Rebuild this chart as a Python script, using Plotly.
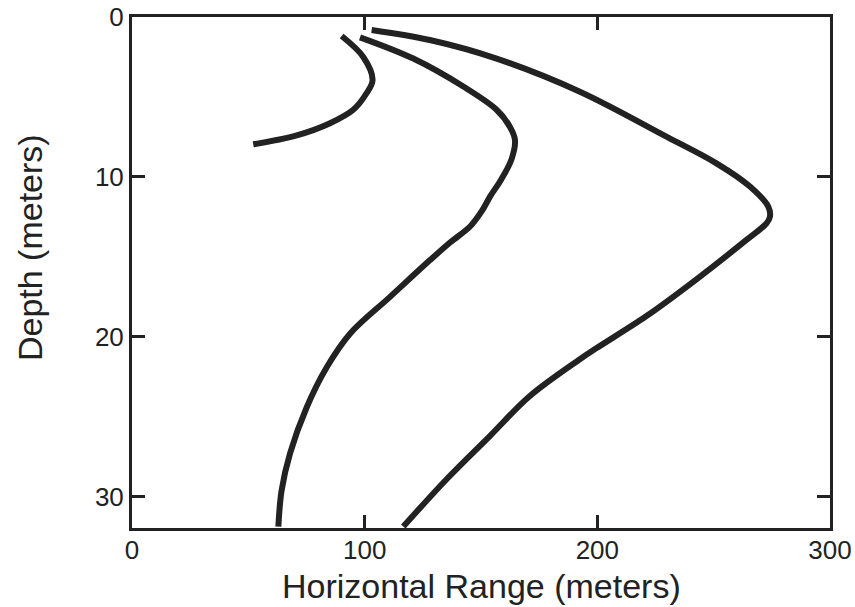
import plotly.graph_objects as go

# Curve 1 (shallow, short)
c1_range = [90.1, 99.4, 103.4, 100.8, 95.1, 85.1, 70.8, 52.1]
c1_depth = [1.19, 2.5, 3.94, 4.77, 5.8, 6.64, 7.4, 7.96]

# Curve 2 (middle)
c2_range = [98.0, 120.9, 142.4, 156.7, 162.4, 164.6, 163.1, 158.5, 154.0, 150.5, 145.3,
            136.7, 128.1, 110.9, 93.7, 83.7, 75.1, 67.9, 64.3, 62.9]
c2_depth = [1.27, 2.6, 4.35, 5.8, 6.86, 7.7, 8.9, 10.2, 11.2, 12.1, 13.1,
            14.1, 15.2, 17.5, 19.8, 21.9, 24.4, 27.3, 29.6, 31.86]

# Curve 3 (outer)
c3_range = [103.0, 128.0, 156.7, 192.5, 229.7, 251.2, 265.6, 273.5, 274.2, 272.7,
            264.1, 242.6, 221.1, 199.7, 192.5, 171.0, 153.8, 135.2, 116.6]
c3_depth = [0.81, 1.44, 2.6, 4.67, 7.48, 9.15, 10.6, 11.86, 12.48, 12.9,
            13.94, 16.4, 18.7, 20.7, 21.4, 23.7, 26.2, 28.9, 31.86]

x_ticks = [0, 100, 200, 300]
y_ticks = [0, 10, 20, 30]
x_title = "Horizontal Range (meters)"
y_title = "Depth (meters)"

FONT = "Liberation Sans, Arial, sans-serif"
INK = "#222222"

fig = go.Figure()
for xs, ys in [(c1_range, c1_depth), (c2_range, c2_depth), (c3_range, c3_depth)]:
    fig.add_trace(go.Scatter(x=xs, y=ys, mode="lines",
                             line=dict(color=INK, width=6, shape="spline", smoothing=1.0),
                             showlegend=False, hoverinfo="skip"))

axis_common = dict(showline=True, linewidth=3, linecolor=INK, mirror="ticks",
                   ticks="inside", ticklen=13, tickwidth=2.5, tickcolor=INK,
                   showgrid=False, zeroline=False, ticklabeloverflow="allow",
                   automargin=False,
                   tickfont=dict(family=FONT, size=26, color=INK))

fig.update_layout(
    width=855, height=607,
    margin=dict(l=132, r=25, t=17, b=79),
    paper_bgcolor="white", plot_bgcolor="white",
    font=dict(family=FONT, color=INK),
    xaxis=dict(range=[0, 300], tickvals=x_ticks, ticktext=[str(v) for v in x_ticks],
               ticklabelstandoff=-3, **axis_common),
    yaxis=dict(range=[31.95, 0], tickvals=y_ticks, ticktext=[str(v) for v in y_ticks],
               **axis_common),
    annotations=[
        dict(text=x_title, xref="paper", yref="paper", x=0.5, y=-0.114,
             xanchor="center", yanchor="middle", showarrow=False,
             font=dict(family=FONT, size=34, color=INK)),
        dict(text=y_title, xref="paper", yref="paper", x=-0.146, y=0.548,
             xanchor="center", yanchor="middle", textangle=-90, showarrow=False,
             font=dict(family=FONT, size=34, color=INK)),
    ],
)

fig.write_html("out.html")
